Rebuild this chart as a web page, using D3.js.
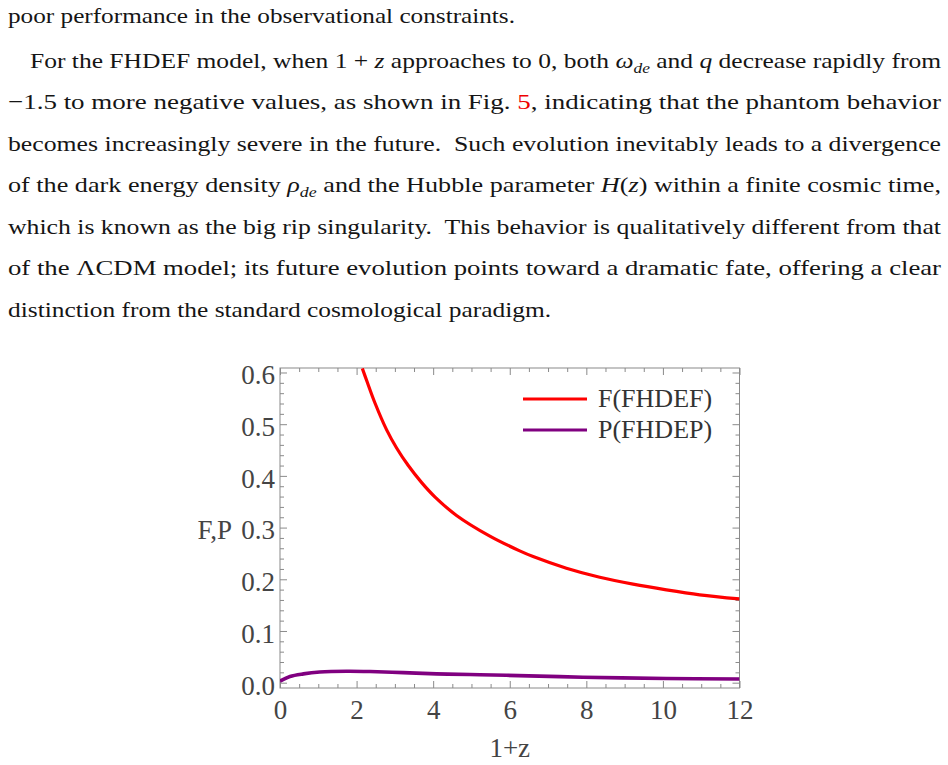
<!DOCTYPE html>
<html>
<head>
<meta charset="utf-8">
<script src="https://cdn.jsdelivr.net/npm/d3@7"></script>
<style>
body { margin: 0; background: #fff; }
</style>
</head>
<body>
<script>
//Width and height
var width = 948;
var height = 765;

//F(FHDEF) curve (x = 1+z)
var fX = [2.15, 2.28, 2.48, 2.785, 3.045, 3.35, 3.70, 4.05, 4.61, 5.48, 6.26, 6.61, 7.48, 8.35, 9.22, 10.09, 10.96, 12];
var fY = [0.608, 0.581, 0.541, 0.489, 0.454, 0.420, 0.387, 0.359, 0.3235, 0.2835, 0.255, 0.244, 0.2215, 0.204, 0.1905, 0.1795, 0.170, 0.162];

//P(FHDEP) curve
var pX = [0, 0.26, 0.61, 1.04, 1.74, 2.35, 3.22, 4.09, 4.96, 5.91, 7.91, 10.09, 12];
var pY = [0.003, 0.012, 0.017, 0.0205, 0.022, 0.0215, 0.0195, 0.017, 0.0157, 0.0143, 0.0106, 0.008, 0.007];

//Tick labels
var xTicks = [0, 2, 4, 6, 8, 10, 12];
var yTicks = [0, 0.1, 0.2, 0.3, 0.4, 0.5, 0.6];
var yTickLabels = ["0.0", "0.1", "0.2", "0.3", "0.4", "0.5", "0.6"];

var seriesNames = ["F(FHDEF)", "P(FHDEP)"];
var seriesColors = ["#ff0000", "#800080"];

//Paragraph above the figure, one entry per printed line
var paraLines = [
    [["poor performance in the observational constraints.", "n"]],
    [["For the FHDEF model, when 1 + ", "n"], ["z", "i"], [" approaches to 0, both ", "n"], ["ω", "i"], ["de", "sub"], [" and ", "n"], ["q", "i"], [" decrease rapidly from", "n"]],
    [["−1.5 to more negative values, as shown in Fig. ", "n"], ["5", "red"], [", indicating that the phantom behavior", "n"]],
    [["becomes increasingly severe in the future.  Such evolution inevitably leads to a divergence", "n"]],
    [["of the dark energy density ", "n"], ["ρ", "i"], ["de", "sub"], [" and the Hubble parameter ", "n"], ["H", "i"], ["(", "n"], ["z", "i"], [")", "n"], [" within a finite cosmic time,", "n"]],
    [["which is known as the big rip singularity.  This behavior is qualitatively different from that", "n"]],
    [["of the ΛCDM model; its future evolution points toward a dramatic fate, offering a clear", "n"]],
    [["distinction from the standard cosmological paradigm.", "n"]]
];
var paraX = [8, 30, 8, 8, 8, 8, 8, 8];
var paraW = [507, 911, 933, 933, 933, 933, 933, 543];
var paraY = [23, 68, 109, 151, 192, 234, 275, 317];

//Create SVG element
var svg = d3.select("body")
            .append("svg")
            .attr("width", width)
            .attr("height", height);

//Paragraph text
paraLines.forEach(function(segs, i) {
    var t = svg.append("text")
        .attr("x", paraX[i])
        .attr("y", paraY[i])
        .attr("textLength", paraW[i])
        .attr("lengthAdjust", "spacingAndGlyphs")
        .attr("font-family", "Liberation Serif")
        .attr("font-size", 22)
        .attr("fill", "#151515")
        .style("white-space", "pre");
    var shifted = false;
    segs.forEach(function(s) {
        var sp = t.append("tspan").text(s[0]);
        if (s[1] == "sub") {
            sp.attr("font-size", 15).attr("font-style", "italic").attr("dy", 5);
            shifted = true;
        } else if (shifted) {
            sp.attr("dy", -5);
            shifted = false;
        }
        if (s[1] == "i") sp.attr("font-style", "italic");
        if (s[1] == "red") sp.attr("fill", "#ee0000");
    });
});

//Plot frame
var plotLeft = 280, plotRight = 739.5, plotTop = 368, plotBottom = 688;

var x = d3.scaleLinear()
          .domain([0, 12])
          .range([plotLeft, plotRight]);

var y = d3.scaleLinear()
          .domain([-0.0103, 0.6087])
          .range([plotBottom, plotTop]);

var xMinor = d3.range(0, 12.001, 0.5).filter(function(v) { return v % 2 != 0; });
var yMinor = d3.range(0, 30.5, 1).map(function(v) { return v / 50; })
               .filter(function(v, i) { return i % 5 != 0; });

var tickColor = "#8a8a8a";
var labelFont = "Liberation Serif";

function styleAxis(g, showLabels) {
    g.select(".domain").remove();
    g.selectAll("line").attr("stroke", tickColor);
    if (!showLabels) g.selectAll("text").remove();
    g.selectAll("text")
     .attr("font-family", labelFont)
     .attr("font-size", 27)
     .attr("fill", "#444");
}

//Major and minor ticks on all four sides
svg.append("g").attr("transform", "translate(0," + plotBottom + ")")
   .call(d3.axisBottom(x).tickValues(xTicks).tickSize(-7).tickSizeOuter(0).tickPadding(12).tickFormat(d3.format("d")))
   .call(styleAxis, true);
svg.append("g").attr("transform", "translate(0," + plotBottom + ")")
   .call(d3.axisBottom(x).tickValues(xMinor).tickSize(-4).tickSizeOuter(0))
   .call(styleAxis, false);
svg.append("g").attr("transform", "translate(0," + plotTop + ")")
   .call(d3.axisTop(x).tickValues(xTicks).tickSize(-7).tickSizeOuter(0))
   .call(styleAxis, false);
svg.append("g").attr("transform", "translate(0," + plotTop + ")")
   .call(d3.axisTop(x).tickValues(xMinor).tickSize(-4).tickSizeOuter(0))
   .call(styleAxis, false);

var yAxisG = svg.append("g").attr("transform", "translate(" + plotLeft + ",0)")
   .call(d3.axisLeft(y).tickValues(yTicks).tickSize(-7).tickSizeOuter(0).tickPadding(5)
           .tickFormat(function(d, i) { return yTickLabels[i]; }))
   .call(styleAxis, true);
yAxisG.selectAll("text").attr("dy", "0.42em");
svg.append("g").attr("transform", "translate(" + plotLeft + ",0)")
   .call(d3.axisLeft(y).tickValues(yMinor).tickSize(-4).tickSizeOuter(0))
   .call(styleAxis, false);
svg.append("g").attr("transform", "translate(" + plotRight + ",0)")
   .call(d3.axisRight(y).tickValues(yTicks).tickSize(-7).tickSizeOuter(0))
   .call(styleAxis, false);
svg.append("g").attr("transform", "translate(" + plotRight + ",0)")
   .call(d3.axisRight(y).tickValues(yMinor).tickSize(-4).tickSizeOuter(0))
   .call(styleAxis, false);

//Frame
svg.append("rect")
   .attr("x", plotLeft).attr("y", plotTop)
   .attr("width", plotRight - plotLeft).attr("height", plotBottom - plotTop)
   .attr("fill", "none")
   .attr("stroke", tickColor)
   .attr("stroke-width", 1);

//Clip curves to the frame
svg.append("clipPath").attr("id", "plotclip")
   .append("rect")
   .attr("x", plotLeft).attr("y", plotTop)
   .attr("width", plotRight - plotLeft).attr("height", plotBottom - plotTop);

var line = d3.line()
             .x(function(d) { return x(d[0]); })
             .y(function(d) { return y(d[1]); })
             .curve(d3.curveCatmullRom.alpha(0.5));

var fData = d3.zip(fX, fY);
var pData = d3.zip(pX, pY);

svg.append("path")
   .datum(pData)
   .attr("clip-path", "url(#plotclip)")
   .attr("d", line)
   .attr("fill", "none")
   .attr("stroke", seriesColors[1])
   .attr("stroke-width", 3.6);

svg.append("path")
   .datum(fData)
   .attr("clip-path", "url(#plotclip)")
   .attr("d", line)
   .attr("fill", "none")
   .attr("stroke", seriesColors[0])
   .attr("stroke-width", 3.2);

//Axis labels
svg.append("text")
   .attr("x", x(6))
   .attr("y", 757)
   .attr("text-anchor", "middle")
   .attr("font-family", labelFont)
   .attr("font-size", 27)
   .attr("fill", "#444")
   .text("1+z");

svg.append("text")
   .attr("x", 232)
   .attr("y", y(0.3) + 11.5)
   .attr("text-anchor", "end")
   .attr("font-family", labelFont)
   .attr("font-size", 27)
   .attr("fill", "#444")
   .text("F,P");

//Legend
var legendY = [399, 430];
var legend = svg.selectAll("g.legend")
   .data(seriesNames)
   .enter()
   .append("g")
   .attr("class", "legend");

legend.append("line")
   .attr("x1", 523).attr("x2", 587)
   .attr("y1", function(d, i) { return legendY[i]; })
   .attr("y2", function(d, i) { return legendY[i]; })
   .attr("stroke", function(d, i) { return seriesColors[i]; })
   .attr("stroke-width", 3);

legend.append("text")
   .attr("x", 598)
   .attr("y", function(d, i) { return legendY[i] + 8; })
   .attr("font-family", labelFont)
   .attr("font-size", 26)
   .attr("fill", "#333")
   .text(function(d) { return d; });
</script>
</body>
</html>
